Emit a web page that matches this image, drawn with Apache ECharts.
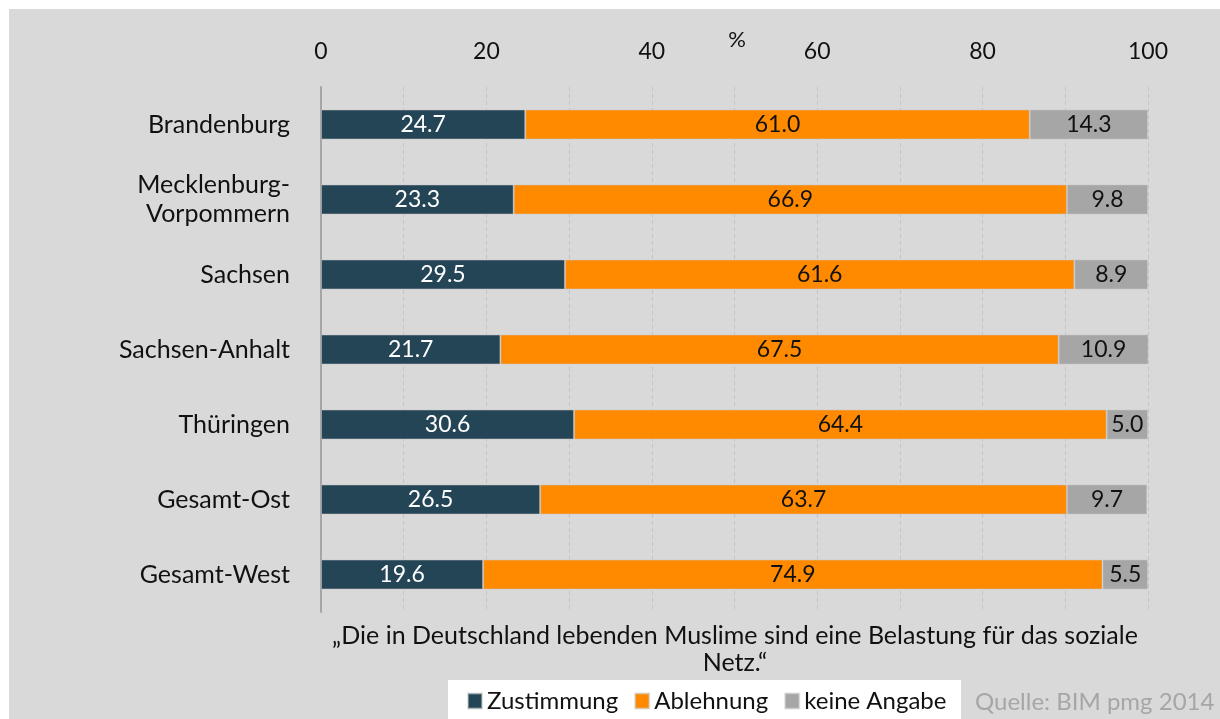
<!DOCTYPE html>
<html>
<head>
<meta charset="utf-8">
<script src="https://cdn.jsdelivr.net/npm/echarts@6/dist/echarts.min.js"></script>
<style>
html,body{margin:0;padding:0;background:#fff;}
#c{width:1220px;height:719px;}
</style>
</head>
<body>
<div id="c"></div>
<script>
const categories = ["Brandenburg", "Mecklenburg-\nVorpommern", "Sachsen", "Sachsen-Anhalt", "Thüringen", "Gesamt-Ost", "Gesamt-West"];
const zustimmung = [24.7, 23.3, 29.5, 21.7, 30.6, 26.5, 19.6];
const ablehnung = [61.0, 66.9, 61.6, 67.5, 64.4, 63.7, 74.9];
const keineAngabe = [14.3, 9.8, 8.9, 10.9, 5.0, 9.7, 5.5];
const seriesNames = ["Zustimmung", "Ablehnung", "keine Angabe"];
const axisTicks = [0, 20, 40, 60, 80, 100];
const axisUnit = "%";
const footnote = "„Die in Deutschland lebenden Muslime sind eine Belastung für das soziale\nNetz.“";
const source = "Quelle: BIM pmg 2014";

const FONT = "Lato";
const chart = echarts.init(document.getElementById('c'), null, {renderer: 'canvas'});
const colors = ['#244556', '#FF8A00', '#A6A6A6'];
const labelColors = ['#ffffff', '#111111', '#111111'];
const data = [zustimmung, ablehnung, keineAngabe];

chart.setOption({
  animation: false,
  textStyle: {fontFamily: FONT},
  graphic: [
    {type: 'rect', shape: {x: 9, y: 9, width: 1211, height: 710}, style: {fill: '#D9D9D9'}, z: -10},
    {type: 'rect', shape: {x: 448, y: 680, width: 513, height: 39}, style: {fill: '#ffffff'}, z: -5},
    {type: 'text', style: {text: axisUnit, x: 737, y: 40, fontSize: 22, fontFamily: FONT, fill: '#111', align: 'center', verticalAlign: 'middle'}},
    {type: 'text', style: {text: footnote, x: 735, y: 622, fontSize: 25, fontFamily: FONT, fill: '#111', align: 'center', lineHeight: 27}},
    {type: 'text', style: {text: source, x: 975, y: 690, fontSize: 24, fontFamily: FONT, fill: '#A6A6A6'}}
  ],
  legend: {
    data: seriesNames,
    left: 462, top: 684,
    itemWidth: 14, itemHeight: 15, itemGap: 16,
    icon: 'rect',
    textStyle: {fontSize: 24, color: '#111', fontFamily: FONT}
  },
  grid: {left: 321, right: 72, top: 87, height: 525, containLabel: false},
  xAxis: {
    type: 'value', position: 'top', min: 0, max: 100, interval: 10,
    axisLine: {show: false}, axisTick: {show: false},
    axisLabel: {fontSize: 23, color: '#111', margin: 24, fontFamily: FONT,
      formatter: v => axisTicks.indexOf(v) >= 0 ? String(v) : ''},
    splitLine: {show: true, lineStyle: {color: '#C4C4C4', type: [4, 3], width: 1}}
  },
  yAxis: {
    type: 'category', data: categories, inverse: true,
    axisLine: {show: true, lineStyle: {color: '#A6A6A6', width: 2}},
    axisTick: {show: false},
    axisLabel: {fontSize: 25, color: '#111', margin: 31, lineHeight: 29, align: 'right', fontFamily: FONT}
  },
  series: seriesNames.map((n, i) => ({
    name: n, type: 'bar', stack: 'total', barWidth: 30,
    data: data[i],
    itemStyle: {color: colors[i], borderColor: 'rgba(200,200,200,0.5)', borderWidth: 1},
    label: {show: true, position: 'inside', fontSize: 23, color: labelColors[i], fontFamily: FONT,
      formatter: p => p.value.toFixed(1)}
  }))
});
</script>
</body>
</html>
